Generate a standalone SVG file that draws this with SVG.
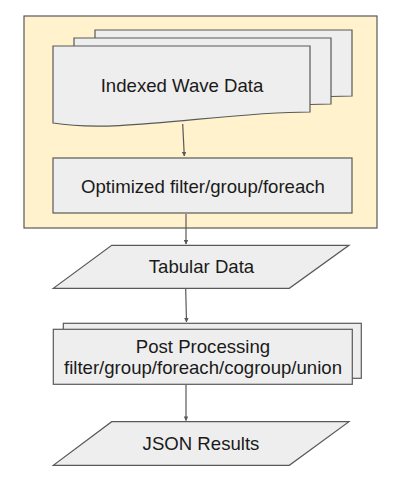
<svg xmlns="http://www.w3.org/2000/svg" width="402" height="484" viewBox="0 0 402 484">
<style>
.shape{fill:#eeeeee;stroke:#595959;stroke-width:1.2}
.cont{fill:#fff2cc;stroke:#595959;stroke-width:1.2}
.lbl{font-family:"Liberation Sans",Arial,sans-serif;font-size:18.6px;fill:#1a1a1a;text-anchor:middle}
.conn{stroke:#595959;stroke-width:1.2;fill:none;marker-end:url(#ah)}
</style>
<defs>
<marker id="ah" viewBox="0 0 10 10" refX="9" refY="5" markerWidth="4.5" markerHeight="4.5" markerUnits="userSpaceOnUse" orient="auto">
<path d="M0,0 L10,5 L0,10 Z" fill="#595959"/>
</marker>
<path id="doc" d="M53,46 H310 V112 C220,112 120,134 53,123 Z"/>
</defs>
<g id="container">
<rect class="cont" x="24" y="16" width="353" height="212"/>
</g>
<g id="indexed-wave-data">
<use href="#doc" class="shape" transform="translate(42,-16)"/>
<use href="#doc" class="shape" transform="translate(21,-8)"/>
<use href="#doc" class="shape"/>
<text class="lbl" x="182" y="92">Indexed Wave Data</text>
</g>
<g id="optimized">
<rect class="shape" x="53" y="158" width="299" height="55"/>
<text class="lbl" x="203" y="193">Optimized filter/group/foreach</text>
</g>
<g id="tabular-data">
<path class="shape" d="M111.7,245.3 H349 L289.3,288.3 H53.3 Z"/>
<text class="lbl" x="201.5" y="273">Tabular Data</text>
</g>
<g id="post-processing">
<rect class="shape" x="63.3" y="323.3" width="298" height="55"/>
<rect class="shape" x="53.3" y="329.3" width="299" height="55"/>
<text class="lbl" x="203" y="353">Post Processing</text>
<text class="lbl" x="203" y="374">filter/group/foreach/cogroup/union</text>
</g>
<g id="json-results">
<path class="shape" d="M111.7,421.7 H349 L289.3,465.3 H53.3 Z"/>
<text class="lbl" x="201" y="450">JSON Results</text>
</g>
<g id="connectors">
<path class="conn" d="M182.7,124 L184.3,156"/>
<path class="conn" d="M186,214 L186,244"/>
<path class="conn" d="M185.7,289 L186.5,322"/>
<path class="conn" d="M186,385 L186,420.5"/>
</g>
</svg>
